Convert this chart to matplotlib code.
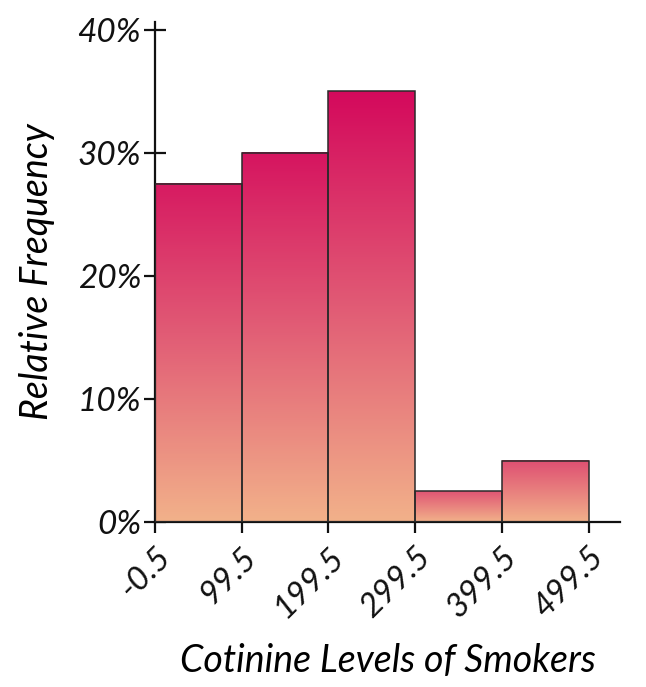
import numpy as np
import matplotlib
matplotlib.use("Agg")
import matplotlib.pyplot as plt
from matplotlib.colors import LinearSegmentedColormap
from matplotlib.ticker import PercentFormatter

# histogram data
bin_edges = [-0.5, 99.5, 199.5, 299.5, 399.5, 499.5]
rel_freq = [0.275, 0.30, 0.35, 0.025, 0.05]
tick_labels = ["-0.5", "99.5", "199.5", "299.5", "399.5", "499.5"]

plt.rcParams['font.family'] = ['Lato', 'DejaVu Sans']
plt.rcParams['font.style'] = 'italic'
plt.rcParams['font.weight'] = 'normal'
plt.rcParams['text.color'] = '#111111'
plt.rcParams['xtick.color'] = '#111111'
plt.rcParams['ytick.color'] = '#111111'

cmap = LinearSegmentedColormap.from_list(
    "peach_pink", [(0.0, "#f2b18a"), (0.5, "#e15b75"), (1.0, "#d4095c")])

fig = plt.figure(figsize=(6.46, 6.87), dpi=100)
ax = fig.add_axes([0.24, 0.24, 0.72, 0.728])

widths = np.diff(bin_edges)
bars = ax.bar(bin_edges[:-1], rel_freq, width=widths, align='edge',
              facecolor='none', edgecolor='#2a2a2a', linewidth=1.1, zorder=3)

hmax = max(rel_freq)
t = np.linspace(0, 1, 256)[:, None]
for rect, h in zip(bars, rel_freq):
    top = 0.5 + 0.5 * h / hmax
    x0 = rect.get_x()
    ax.imshow(t * top, cmap=cmap, vmin=0, vmax=1, origin='lower',
              extent=[x0, x0 + rect.get_width(), 0, h], aspect='auto',
              interpolation='bilinear', zorder=2)

ax.set_xlim(-0.5, 536)
ax.set_ylim(0, 0.4065)
ax.set_xticks(bin_edges)
ax.set_xticklabels(tick_labels, rotation=45, ha='right', rotation_mode='anchor')
ax.set_yticks([0, 0.1, 0.2, 0.3, 0.4])
ax.yaxis.set_major_formatter(PercentFormatter(1.0, decimals=0))

for s in ['top', 'right']:
    ax.spines[s].set_visible(False)
for s in ['left', 'bottom']:
    ax.spines[s].set_linewidth(1.6)
    ax.spines[s].set_color('#111111')
ax.tick_params(axis='y', direction='inout', length=16, width=1.6, labelsize=24, pad=2)
ax.tick_params(axis='x', direction='out', length=8, width=1.6, labelsize=24, pad=6)

ax.set_xlabel("Cotinine Levels of Smokers", fontsize=27, labelpad=14)
ax.set_ylabel("Relative Frequency", fontsize=27, labelpad=16)

fig.savefig("out.png", dpi=100)
